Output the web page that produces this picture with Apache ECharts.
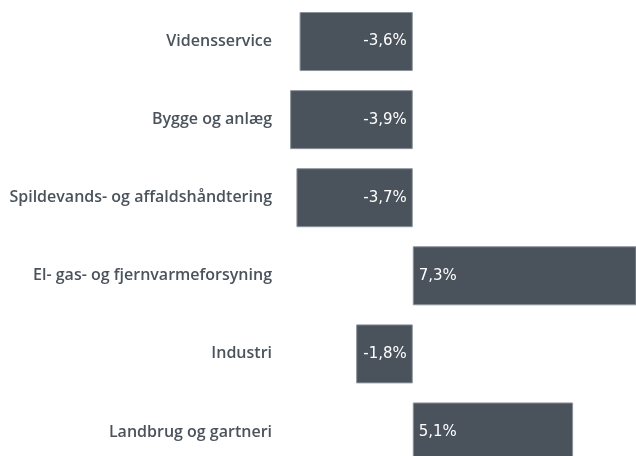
<!DOCTYPE html>
<html>
<head>
<meta charset="utf-8">
<script src="https://cdn.jsdelivr.net/npm/echarts@6/dist/echarts.min.js"></script>
<style>
  html, body { margin: 0; padding: 0; background: #fff; overflow: hidden; }
  /* nederste søjle er skåret af i originalen, derfor er div'en lidt højere end vinduet */
  #main { width: 636px; height: 471px; }
</style>
</head>
<body>
<div id="main"></div>
<script>
// brancher, oppefra og ned
var categories = ['Vidensservice', 'Bygge og anlæg', 'Spildevands- og affaldshåndtering',
  'El- gas- og fjernvarmeforsyning', 'Industri', 'Landbrug og gartneri']
var values = [-3.6, -3.9, -3.7, 7.3, -1.8, 5.1]

var chart = echarts.init(document.getElementById('main'))

var seriesData = values.map(function (v) {
  return {
    value: v,
    label: { position: v < 0 ? 'insideRight' : 'insideLeft' }
  }
})

var option = {
  animation: false,
  grid: {
    left: 287,
    right: 0,
    top: 2.5,
    bottom: 0
  },
  xAxis: {
    type: 'value',
    min: -4,
    max: 7.1,
    show: false
  },
  yAxis: {
    type: 'category',
    data: categories,
    inverse: true,
    axisLine: { show: false },
    axisTick: { show: false },
    axisLabel: {
      margin: 15,
      color: '#4a525c',
      fontFamily: 'Open Sans',
      fontWeight: 600,
      fontSize: 16
    }
  },
  series: [{
    type: 'bar',
    data: seriesData,
    barWidth: 59,
    itemStyle: {
      color: '#4a525c',
      borderColor: '#8c939b',
      borderWidth: 1
    },
    label: {
      show: true,
      distance: 6,
      color: '#fff',
      fontFamily: 'DejaVu Sans',
      fontSize: 15,
      formatter: function (p) {
        return String(p.value).replace('.', ',') + '%'
      }
    }
  }]
}

chart.setOption(option)
</script>
</body>
</html>
